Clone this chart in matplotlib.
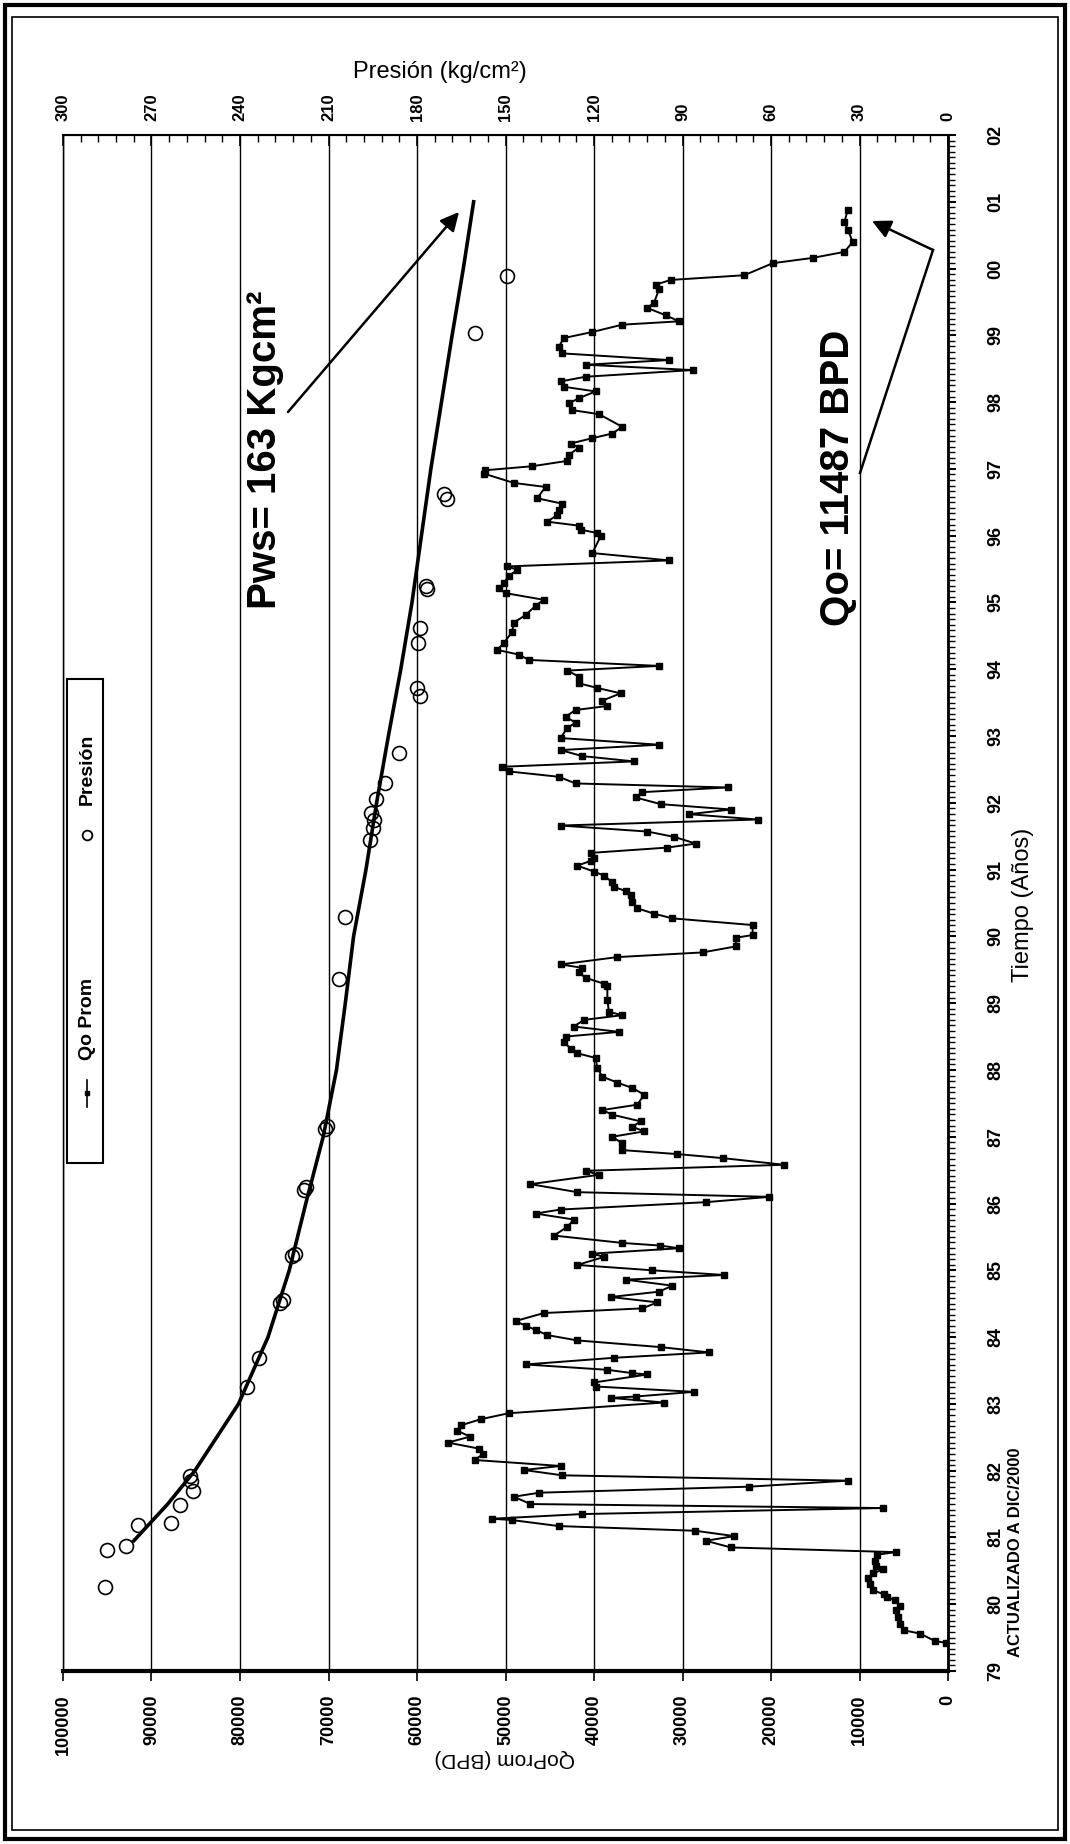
import matplotlib
matplotlib.use("Agg")
import matplotlib.pyplot as plt
from matplotlib.patches import Rectangle
from matplotlib.ticker import MultipleLocator, FixedLocator
from matplotlib.lines import Line2D

plt.rcParams['font.family'] = ['Liberation Sans', 'DejaVu Sans']

# Qo Prom (BPD) vs time (decimal year)
qo_time = [1979.42, 1979.45, 1979.56, 1979.61, 1979.71, 1979.81, 1979.91, 1979.97,
           1980.06, 1980.11, 1980.15, 1980.21, 1980.31, 1980.40, 1980.46, 1980.52,
           1980.57, 1980.65, 1980.74, 1980.78, 1980.85, 1980.95, 1981.02, 1981.10,
           1981.17, 1981.26, 1981.28, 1981.35, 1981.44, 1981.50, 1981.61, 1981.67,
           1981.76, 1981.85, 1981.93, 1982.01, 1982.07, 1982.16, 1982.25, 1982.33,
           1982.42, 1982.51, 1982.60, 1982.68, 1982.77, 1982.86, 1983.02, 1983.09,
           1983.11, 1983.18, 1983.26, 1983.32, 1983.44, 1983.46, 1983.51, 1983.59,
           1983.69, 1983.77, 1983.85, 1983.95, 1984.03, 1984.11, 1984.17, 1984.24,
           1984.36, 1984.43, 1984.52, 1984.60, 1984.68, 1984.77, 1984.86, 1984.93,
           1985.00, 1985.08, 1985.20, 1985.25, 1985.33, 1985.37, 1985.41, 1985.52,
           1985.65, 1985.76, 1985.85, 1985.91, 1986.02, 1986.10, 1986.17, 1986.29,
           1986.43, 1986.49, 1986.58, 1986.68, 1986.74, 1986.80, 1986.90, 1987.00,
           1987.08, 1987.15, 1987.23, 1987.33, 1987.40, 1987.48, 1987.63, 1987.73,
           1987.81, 1987.90, 1988.03, 1988.18, 1988.25, 1988.32, 1988.42, 1988.50,
           1988.57, 1988.65, 1988.75, 1988.82, 1988.87, 1989.05, 1989.25, 1989.29,
           1989.38, 1989.46, 1989.53, 1989.58, 1989.69, 1989.76, 1989.85, 1989.98,
           1990.02, 1990.17, 1990.27, 1990.34, 1990.42, 1990.52, 1990.62, 1990.68,
           1990.74, 1990.81, 1990.91, 1990.97, 1991.06, 1991.13, 1991.18, 1991.25,
           1991.33, 1991.39, 1991.49, 1991.57, 1991.66, 1991.75, 1991.83, 1991.90,
           1991.98, 1992.08, 1992.16, 1992.23, 1992.29, 1992.39, 1992.47, 1992.54,
           1992.62, 1992.70, 1992.79, 1992.87, 1992.97, 1993.12, 1993.20, 1993.29,
           1993.39, 1993.45, 1993.53, 1993.64, 1993.72, 1993.79, 1993.89, 1993.98,
           1994.05, 1994.14, 1994.22, 1994.29, 1994.39, 1994.56, 1994.70, 1994.81,
           1994.95, 1995.04, 1995.14, 1995.21, 1995.29, 1995.39, 1995.49, 1995.54,
           1995.63, 1995.74, 1995.99, 1996.04, 1996.09, 1996.15, 1996.21, 1996.31,
           1996.38, 1996.48, 1996.56, 1996.73, 1996.79, 1996.93, 1996.98, 1997.04,
           1997.12, 1997.21, 1997.32, 1997.38, 1997.46, 1997.53, 1997.63, 1997.82,
           1997.88, 1997.98, 1998.06, 1998.16, 1998.23, 1998.31, 1998.38, 1998.48,
           1998.56, 1998.63, 1998.73, 1998.83, 1998.96, 1999.05, 1999.16, 1999.21,
           1999.30, 1999.41, 1999.49, 1999.69, 1999.76, 1999.83, 1999.90, 2000.08,
           2000.16, 2000.25, 2000.40, 2000.58, 2000.70, 2000.88]
qo_val = [190, 1510, 3130, 5020, 5400, 5660, 5850, 5400,
          6040, 6900, 7280, 8490, 8790, 9060, 8490, 7360,
          8110, 8300, 8040, 5920, 24530, 27360, 24150, 28570,
          43970, 49250, 51520, 41330, 7360, 47180, 49060, 46160,
          22460, 11320, 43590, 47930, 43780, 53500, 52500, 53000,
          56500, 54000, 55500, 55000, 52800, 49630, 32080, 38120,
          35290, 28680, 39820, 40000, 33970, 35660, 38490, 47740,
          37740, 26980, 32460, 41890, 45290, 46610, 47740, 48870,
          45670, 34530, 32830, 38120, 32650, 31140, 36420, 25290,
          33400, 41890, 38870, 40190, 30380, 32500, 36800, 44530,
          43020, 42270, 46610, 43780, 27360, 20190, 41890, 47180,
          39440, 40950, 18490, 25470, 30570, 36800, 36800, 37930,
          34340, 35660, 34720, 37930, 39060, 35100, 34340, 35660,
          37360, 39060, 39630, 39820, 41890, 42650, 43400, 43210,
          37170, 42270, 41140, 36800, 38310, 38490, 38490, 38870,
          40950, 41700, 41330, 43780, 37360, 27740, 23970, 23970,
          22080, 22080, 31140, 33210, 35100, 35660, 35850, 36420,
          37740, 37930, 38870, 40000, 41890, 40380, 40000, 40380,
          31700, 28490, 30950, 33970, 43780, 21510, 29250, 24530,
          32460, 35290, 34530, 24910, 42080, 43970, 49630, 50380,
          35470, 41330, 43780, 32650, 43780, 43020, 42080, 43210,
          42080, 38490, 39060, 36990, 39630, 41700, 41700, 43020,
          32650, 47360, 48500, 50950, 50190, 49250, 49060, 47740,
          46610, 45670, 50000, 50760, 50190, 49630, 48690, 49820,
          31520, 40190, 39250, 39630, 41510, 41700, 45290, 44150,
          43970, 43590, 46420, 45480, 49060, 52460, 52270, 46990,
          43020, 42840, 41700, 42650, 40190, 37930, 36800, 39440,
          42460, 42840, 41700, 39820, 43400, 43780, 40950, 28870,
          40950, 31520, 43590, 43970, 43400, 40190, 36800, 30380,
          31890, 33970, 33210, 32650, 33020, 31320, 23020, 19810,
          15280, 11700, 10760, 11320, 11700, 11320]

# Presion (kg/cm2) measured points
p_time = [1980.26, 1980.81, 1980.87, 1981.19, 1981.22, 1981.49, 1981.70, 1981.85,
          1981.92, 1983.25, 1983.69, 1984.51, 1984.55, 1985.21, 1985.25, 1986.20,
          1986.24, 1987.12, 1987.16, 1989.36, 1990.29, 1991.45, 1991.62, 1991.75,
          1991.85, 1992.05, 1992.30, 1992.75, 1993.60, 1993.72, 1994.40, 1994.62,
          1995.20, 1995.25, 1996.55, 1996.62, 1999.04, 1999.89]
p_val = [285.7, 285.0, 278.6, 274.5, 263.3, 260.5, 256.0, 256.5,
         256.8, 237.7, 233.7, 226.5, 225.5, 222.4, 221.5, 218.4,
         217.5, 211.2, 210.5, 206.5, 204.4, 196.0, 195.0, 194.5,
         195.5, 194.0, 191.0, 186.0, 179.0, 180.0, 179.5, 179.0,
         176.5, 177.0, 170.0, 171.0, 160.5, 149.6]

# Pws trend line
pws_time = [1980.95, 1981.5, 1982.0, 1983.0, 1984.0, 1985.0, 1986.0, 1987.0,
            1988.0, 1989.0, 1990.0, 1991.0, 1992.0, 1993.0, 1994.0, 1995.0,
            1996.0, 1997.0, 1998.0, 1999.0, 2000.0, 2001.0]
pws_val = [276.0, 264.5, 255.3, 240.5, 230.5, 223.3, 217.7, 211.8,
           207.3, 204.3, 201.5, 197.3, 193.7, 189.7, 185.5, 181.7,
           178.5, 175.3, 171.7, 168.1, 164.3, 160.8]

qo_ticks = list(range(0, 100001, 10000))
p_ticks = list(range(0, 301, 30))
years = list(range(1979, 2003))
year_labels = ['%02d' % (y % 100) for y in years]

W, H = 1070, 1844
fig = plt.figure(figsize=(W / 100, H / 100), dpi=100)
fig.patch.set_facecolor('white')

ax = fig.add_axes([63 / W, 1 - 1671 / H, (948 - 63) / W, (1671 - 135) / H])
ax.set_xlim(100000, 0)
ax.set_ylim(1979, 2002)

for q in qo_ticks:
    ax.axvline(q, color='black', lw=1.0, zorder=1)

ax.plot(qo_val, qo_time, '-s', color='black', lw=1.4, ms=4, zorder=3)

# time axis (right side)
ax.yaxis.tick_right()
ax.yaxis.set_major_locator(FixedLocator(years))
ax.yaxis.set_minor_locator(MultipleLocator(1 / 12))
ax.set_yticklabels(year_labels, rotation=90, fontsize=13, fontweight='bold', va='center')
ax.tick_params(axis='y', which='major', direction='out', length=6, width=1.5, pad=22)
ax.tick_params(axis='y', which='minor', direction='out', length=5, width=1.0)

# Qo axis (bottom)
ax.xaxis.set_major_locator(FixedLocator(qo_ticks))
ax.set_xticklabels([str(q) for q in qo_ticks], rotation=90, fontsize=13, fontweight='bold')
ax.tick_params(axis='x', which='major', direction='out', length=7, width=1.2, pad=10)
ax.spines['bottom'].set_linewidth(3)
ax.spines['right'].set_linewidth(2)
ax.spines['left'].set_linewidth(1)
ax.spines['top'].set_linewidth(1.5)

# pressure axis (top)
ax2 = ax.twiny()
ax2.set_xlim(300, 0)
ax2.xaxis.set_major_locator(FixedLocator(p_ticks))
ax2.xaxis.set_minor_locator(MultipleLocator(6))
ax2.set_xticklabels([str(p) for p in p_ticks], rotation=90, fontsize=12, fontweight='bold')
ax2.tick_params(axis='x', which='major', direction='in', length=8, width=1.2, pad=10)
ax2.tick_params(axis='x', which='minor', direction='in', length=5, width=1.0)

ax2.plot(pws_val, pws_time, color='black', lw=2.6, zorder=4)
ax2.plot(p_val, p_time, 'o', mfc='none', mec='black', mew=1.2, ms=10, zorder=5)

# axis titles
fig.text(505 / W, 1 - 1758 / H, 'QoProm (BPD)', rotation=180, ha='center', va='center',
         fontsize=15)
fig.text(440 / W, 1 - 72 / H, 'Presión (kg/cm²)', ha='center', va='center', fontsize=17)
fig.text(1023 / W, 1 - 905 / H, 'Tiempo (Años)', rotation=90, ha='center', va='center',
         fontsize=17)
fig.text(1015 / W, 1 - 1552 / H, 'ACTUALIZADO A DIC/2000', rotation=90, ha='center',
         va='center', fontsize=12, fontweight='bold')

# annotations
fig.text(265 / W, 1 - 450 / H, 'Pws= 163 Kgcm²', rotation=90, ha='center', va='center',
         fontsize=29, fontweight='bold')
fig.text(838 / W, 1 - 478 / H, 'Qo= 11487 BPD', rotation=90, ha='center', va='center',
         fontsize=29, fontweight='bold')
arrow = dict(arrowstyle='-|>', color='black', lw=1.8, mutation_scale=28, shrinkA=0, shrinkB=0)
ax.annotate('', xy=(459, H - 212), xycoords='figure pixels',
            xytext=(288, H - 412), textcoords='figure pixels', arrowprops=arrow)
ax.annotate('', xy=(872, H - 221), xycoords='figure pixels',
            xytext=(933, H - 250), textcoords='figure pixels', arrowprops=arrow)
fig.add_artist(Line2D([860 / W, 933 / W], [1 - 473 / H, 1 - 250 / H], color='black', lw=1.8))

# legend box (rotated)
fig.add_artist(Rectangle((67 / W, 1 - 1163 / H), 36 / W, (1163 - 679) / H, fill=False,
                         edgecolor='black', lw=1.5))
fig.add_artist(Line2D([87 / W, 87 / W], [1 - 1107 / H, 1 - 1080 / H], color='black', lw=1.2))
fig.add_artist(Line2D([87 / W], [1 - 1093 / H], marker='s', color='black', ms=3.5))
fig.text(87 / W, 1 - 1019 / H, 'Qo Prom', rotation=90, ha='center', va='center',
         fontsize=14, fontweight='bold')
fig.add_artist(Line2D([87 / W], [1 - 835 / H], marker='o', mfc='none', mec='black', ms=7,
                      mew=1.3))
fig.text(87 / W, 1 - 769 / H, 'Presión', rotation=90, ha='center', va='center',
         fontsize=14, fontweight='bold')

# page frame
fig.add_artist(Rectangle((5 / W, 5 / H), 1060 / W, 1834 / H, fill=False, edgecolor='black', lw=3))
fig.add_artist(Rectangle((12 / W, 14 / H), 1046 / W, 1813 / H, fill=False, edgecolor='black', lw=1.2))

fig.savefig('out.png', dpi=100)
